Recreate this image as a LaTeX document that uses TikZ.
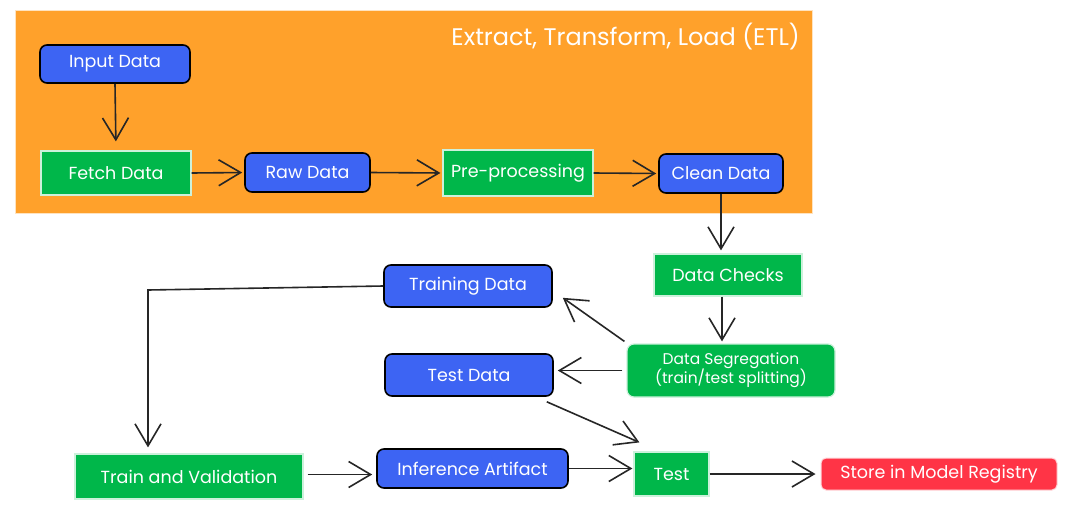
\documentclass[tikz,border=0pt]{standalone}
\usepackage{fontspec}
\setmainfont{Poppins}
\usetikzlibrary{arrows.meta}
\definecolor{etlorange}{HTML}{FFA12B}
\definecolor{nodeblue}{HTML}{3D64F3}
\definecolor{nodegreen}{HTML}{00B74A}
\definecolor{nodered}{HTML}{FF3446}
\tikzset{
  box/.style={minimum width=#1, inner sep=0pt, font=\fontsize{17.5}{20}\selectfont, text=white, align=center},
  bluebox/.style={box=#1, fill=nodeblue, draw=black, line width=1.6pt, rounded corners=7pt},
  greenbox/.style={box=#1, fill=nodegreen, draw=white!80!nodegreen, line width=1.2pt},
  redbox/.style={box=#1, fill=nodered, draw=white!80!nodered, line width=1pt, rounded corners=5pt},
  conn/.style={draw=black!85, line width=1.6pt, -{Straight Barb[length=22pt,width=26pt,line width=1.6pt]}}
}
\begin{document}
\begin{tikzpicture}[x=1pt,y=-1pt]
\useasboundingbox (0,0) rectangle (1068,504);
\fill[white] (0,0) rectangle (1068,504);
\node[fill=etlorange, draw=white!70!etlorange, line width=1pt, minimum width=797pt, minimum height=203pt, inner sep=0pt] (etl) at (413.5,111.5) {};
\node[anchor=east, text=white, font=\fontsize{24}{28}\selectfont, inner sep=0pt] (title) at (800,37) {Extract, Transform, Load (ETL)};

\node[bluebox=150pt, minimum height=38pt] (input) at (115,64) {Input Data};
\node[greenbox=150pt, minimum height=44pt] (fetch) at (116,173) {Fetch Data};
\node[bluebox=125pt, minimum height=39pt] (raw) at (307.5,172.5) {Raw Data};
\node[greenbox=150pt, minimum height=46pt] (pre) at (518,173) {Pre-processing};
\node[bluebox=124pt, minimum height=39pt] (clean) at (721,173.5) {Clean Data};
\node[greenbox=148pt, minimum height=42pt] (checks) at (728,275) {Data Checks};
\node[greenbox=208pt, minimum height=53pt, rounded corners=7pt, font=\fontsize{15.5}{19}\selectfont] (seg) at (731,370.5) {Data Segregation\\(train/test splitting)};
\node[bluebox=168pt, minimum height=42pt] (train) at (468,286) {Training Data};
\node[bluebox=168pt, minimum height=42pt] (testdata) at (469,375) {Test Data};
\node[greenbox=228pt, minimum height=45pt] (trainval) at (189,476.5) {Train and Validation};
\node[bluebox=191pt, minimum height=39pt] (infer) at (472.5,468.5) {Inference Artifact};
\node[greenbox=75pt, minimum height=44pt] (test) at (671.5,474) {Test};
\node[redbox=236pt, minimum height=32pt] (store) at (939,474) {Store in Model Registry};

\coordinate (corner) at (148,290);

\draw[conn, shorten >=9pt] (input.south) -- (fetch.north);
\draw[conn, shorten >=2pt] (fetch.east) -- (raw.west);
\draw[conn, shorten >=2pt] (raw.east) -- (pre.west);
\draw[conn, shorten >=2pt] (pre.east) -- (clean.west);
\draw[conn, shorten >=3pt] (clean.south) -- (clean.south |- checks.north);
\draw[conn, shorten >=2pt] ([xshift=-6pt]checks.south) -- ([xshift=-6pt]checks.south |- seg.north);
\draw[conn] ([xshift=-2pt,yshift=2pt]seg.north west) -- ([xshift=10pt,yshift=10pt]train.south east);
\draw[conn, shorten <=4pt, shorten >=4pt] (seg.west) -- (seg.west -| testdata.east);
\draw[conn, shorten >=6pt] (train.west) -- (corner) -- (corner |- trainval.north);
\draw[conn] ([xshift=-7pt,yshift=-5pt]testdata.south east) -- ([xshift=6pt,yshift=9pt]test.north west);
\draw[conn, shorten <=4pt, shorten >=4pt] ([yshift=2pt]trainval.east) -- ([yshift=2pt]trainval.east -| infer.west);
\draw[conn, shorten >=1pt] (infer.east) -- (infer.east -| test.west);
\draw[conn, shorten >=5pt] (test.east) -- (test.east -| store.west);
\end{tikzpicture}
\end{document}
